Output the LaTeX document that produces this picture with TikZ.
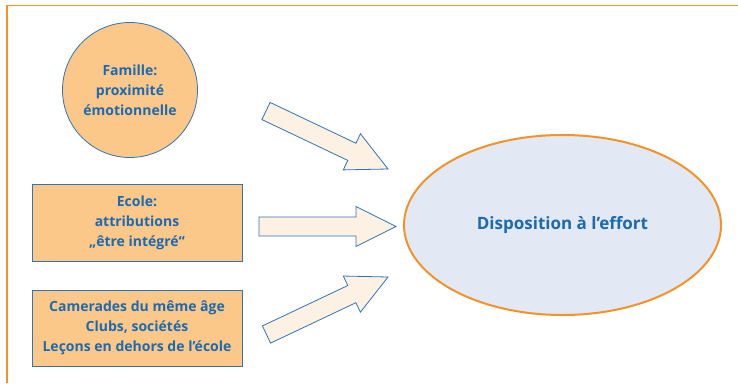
\documentclass[tikz,border=0pt]{standalone}
\usepackage{fontspec}
\setmainfont{Open Sans}
\usetikzlibrary{calc,shapes.geometric}
\definecolor{frameorange}{HTML}{F39325}
\definecolor{boxfill}{HTML}{FCC88A}
\definecolor{txtblue}{HTML}{1C6AB0}
\definecolor{lineblue}{HTML}{2E75B6}
\definecolor{arrfill}{HTML}{FDF1E4}
\definecolor{ellfill}{HTML}{E2E8F4}
\tikzset{
  srcbox/.style={draw=lineblue, line width=0.8pt, fill=boxfill, text=txtblue,
    font=\bfseries\fontsize{14}{20}\selectfont, align=center, inner sep=0pt},
  barrow/.style={draw=lineblue, line width=0.8pt, fill=arrfill, line join=miter},
  goal/.style={ellipse, draw=frameorange, line width=2pt, fill=ellfill, text=txtblue,
    font=\bfseries\fontsize{17}{20}\selectfont, inner sep=0pt},
}
\newcommand\blockarr[2]{%
  \coordinate (#1b) at ($(#2)!40pt!(#1)$);
  \path[barrow] ($(#1)!9.5pt!-90:(#2)$) -- ($(#1b)!9.5pt!-90:(#2)$) -- ($(#1b)!20pt!-90:(#2)$)
    -- (#2) -- ($(#1b)!20pt!90:(#2)$) -- ($(#1b)!9.5pt!90:(#2)$) -- ($(#1)!9.5pt!90:(#2)$) -- cycle;}
\begin{document}
\begin{tikzpicture}[x=1pt, y=-1pt]
\useasboundingbox (0,0) rectangle (738,383);
\coordinate (fa) at (7,383);
\coordinate (fb) at (7,5.5);
\coordinate (fc) at (738,5.5);
\draw[frameorange, line width=1.2pt] (fa) -- (fb) -- (fc);
\node[srcbox, circle, minimum size=135pt] (fam) at (130,90) {Famille:\\proximité\\émotionnelle};
\node[srcbox, rectangle, minimum width=210pt, minimum height=77pt] (eco) at (137,222.5) {Ecole:\\attributions\\„être intégré“};
\node[srcbox, rectangle, minimum width=210pt, minimum height=76pt] (cam) at (137,328) {Camerades du même âge\\Clubs, sociétés\\Leçons en dehors de l’école};
\node[goal, minimum width=317pt, minimum height=180pt] (dis) at (562.5,225) {Disposition à l’effort};
\coordinate (a1s) at (266,111); \coordinate (a1e) at (388,169);
\coordinate (a2s) at (259,226.5); \coordinate (a2e) at (396,226.5);
\coordinate (a3s) at (266.5,334.5); \coordinate (a3e) at (388,277);
\blockarr{a1s}{a1e}
\blockarr{a2s}{a2e}
\blockarr{a3s}{a3e}
\end{tikzpicture}
\end{document}
